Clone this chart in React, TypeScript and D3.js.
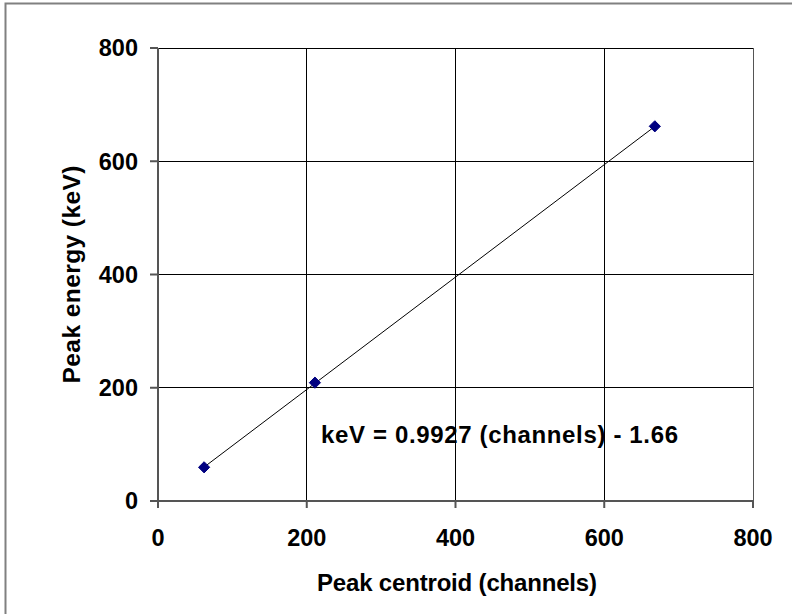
import React, { useEffect, useRef } from "react";
import * as d3 from "d3";

const channels = [62, 211, 668];
const energies = [59.5, 209, 661.7];
const xTicks = [0, 200, 400, 600, 800];
const yTicks = [0, 200, 400, 600, 800];
const slope = 0.9927;
const intercept = -1.66;
const xTitle = "Peak centroid (channels)";
const yTitle = "Peak energy (keV)";
const equation = "keV = 0.9927 (channels) - 1.66";

const W = 792;
const H = 614;

export default function App() {
  const ref = useRef<SVGSVGElement>(null);

  useEffect(() => {
    const svg = d3.select(ref.current);
    svg.selectAll("*").remove();
    const font = "Arial, 'Liberation Sans', sans-serif";

    const left = 158, right = 753, top = 48, bottom = 501;
    const x = d3.scaleLinear().domain([0, 800]).range([left, right]);
    const y = d3.scaleLinear().domain([0, 800]).range([bottom, top]);

    svg.append("rect").attr("width", W).attr("height", H).attr("fill", "#fff");
    // outer border (top & left visible)
    svg.append("path")
      .attr("d", `M5.5,${H + 5} V3.5 H${W + 5}`)
      .attr("fill", "none").attr("stroke", "#808080").attr("stroke-width", 2);

    // gridlines
    const g = svg.append("g");
    xTicks.filter(t => t > 0 && t < 800).forEach(t => {
      g.append("line").attr("x1", x(t)).attr("x2", x(t)).attr("y1", top).attr("y2", bottom)
        .attr("stroke", "#000").attr("stroke-width", 1).attr("shape-rendering", "crispEdges");
    });
    yTicks.filter(t => t > 0).forEach(t => {
      g.append("line").attr("x1", left).attr("x2", right).attr("y1", y(t)).attr("y2", y(t))
        .attr("stroke", "#000").attr("stroke-width", 1).attr("shape-rendering", "crispEdges");
    });
    // right border of plot
    g.append("line").attr("x1", right).attr("x2", right).attr("y1", top).attr("y2", bottom)
      .attr("stroke", "#555").attr("stroke-width", 1).attr("shape-rendering", "crispEdges");

    // axes
    const ax = svg.append("g").attr("stroke", "#555").attr("stroke-width", 2);
    ax.append("line").attr("x1", left).attr("x2", left).attr("y1", top).attr("y2", bottom + 7);
    ax.append("line").attr("x1", left - 8).attr("x2", right).attr("y1", bottom).attr("y2", bottom);
    yTicks.forEach(t => {
      ax.append("line").attr("x1", left - 8).attr("x2", left).attr("y1", y(t)).attr("y2", y(t));
    });
    xTicks.forEach(t => {
      ax.append("line").attr("x1", x(t)).attr("x2", x(t)).attr("y1", bottom).attr("y2", bottom + 7);
    });

    const fs = 23.5;
    yTicks.forEach(t => {
      svg.append("text").attr("x", 138).attr("y", y(t)).attr("dy", "0.36em")
        .attr("text-anchor", "end").attr("font-family", font).attr("font-weight", "bold")
        .attr("font-size", fs).text(String(t));
    });
    xTicks.forEach(t => {
      svg.append("text").attr("x", x(t)).attr("y", 546)
        .attr("text-anchor", "middle").attr("font-family", font).attr("font-weight", "bold")
        .attr("font-size", fs).text(String(t));
    });
    svg.append("text").attr("x", 457).attr("y", 591)
      .attr("text-anchor", "middle").attr("font-family", font).attr("font-weight", "bold")
      .attr("font-size", 24).attr("textLength", 280).attr("lengthAdjust", "spacing").text(xTitle);
    svg.append("text")
      .attr("transform", `translate(80,${(top + bottom) / 2}) rotate(-90)`)
      .attr("text-anchor", "middle").attr("font-family", font).attr("font-weight", "bold")
      .attr("font-size", 24.5).attr("textLength", 218).attr("lengthAdjust", "spacing").text(yTitle);

    // trendline
    const x0 = d3.min(channels)!, x1 = d3.max(channels)!;
    svg.append("line")
      .attr("x1", x(x0)).attr("y1", y(slope * x0 + intercept))
      .attr("x2", x(x1)).attr("y2", y(slope * x1 + intercept))
      .attr("stroke", "#000").attr("stroke-width", 1);

    // markers
    const sym = d3.symbol().type(d3.symbolDiamond2).size(80);
    channels.forEach((c, i) => {
      svg.append("path").attr("d", sym()!)
        .attr("transform", `translate(${x(c)},${y(energies[i])})`)
        .attr("fill", "#000080").attr("stroke", "#000080").attr("stroke-width", 1);
    });

    svg.append("text").attr("x", 321).attr("y", 443)
      .attr("font-family", font).attr("font-weight", "bold")
      .attr("font-size", 24).attr("textLength", 357).attr("lengthAdjust", "spacing").text(equation);
  }, []);

  return (
    <svg ref={ref} width={W} height={H}
      style={{ position: "absolute", left: 0, top: 0, display: "block" }} />
  );
}
